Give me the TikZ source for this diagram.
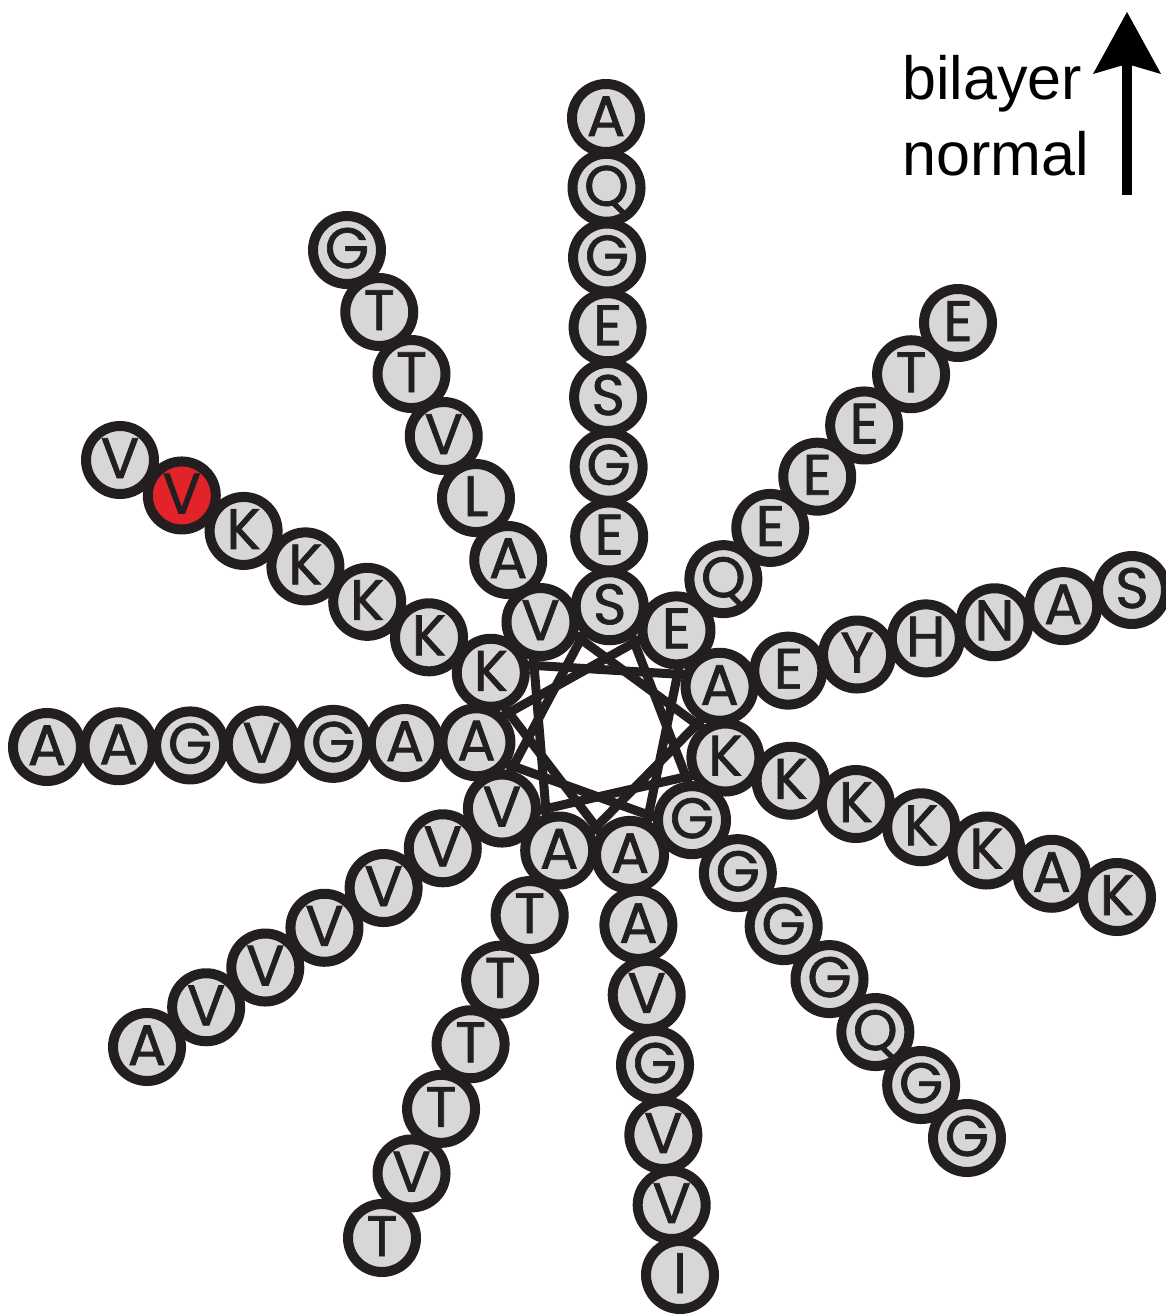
\documentclass[tikz,border=0pt]{standalone}
\usepackage{fontspec}
\setmainfont{Liberation Sans}
\newfontfamily\resfont[FakeBold=1.2]{Poppins}
\usetikzlibrary{calc}
\definecolor{ink}{HTML}{231F20}
\definecolor{resgrey}{HTML}{D7D7D7}
\definecolor{resred}{HTML}{E2232A}
\begin{document}
\begin{tikzpicture}[x=1pt,y=-1pt,
  res/.style={circle,draw=ink,line width=10pt,minimum size=68pt,inner sep=0pt,
     font=\resfont\fontsize{57}{57}\selectfont,text=ink,text height=36pt,text depth=0pt},
  helix/.style={draw=ink,line width=9pt},
  caption/.style={font=\fontsize{61}{61}\selectfont,text=black,inner sep=0pt,anchor=base west}]
\useasboundingbox (0,0) rectangle (1165,1316);
\coordinate (C) at (602,732);
% inner ring (wheel) positions and helix line end points
\foreach \k in {0,...,10}{
  \pgfmathsetmacro\th{86.5-32.7273*\k}
  \coordinate (I\k) at ({602+126*cos(\th)},{732-126*sin(\th)});
  \coordinate (H\k) at ({602+150*cos(\th)},{732-150*sin(\th)});
}
% outer ends of the spokes
\coordinate (O0) at (606,118);
\coordinate (O1) at (958,323);
\coordinate (O2) at (1132,590);
\coordinate (O3) at (1117,897);
\coordinate (O4) at (967,1138);
\coordinate (O5) at (680,1275);
\coordinate (O6) at (382,1238);
\coordinate (O7) at (147,1047);
\coordinate (O8) at (47,747);
\coordinate (O9) at (120,460);
\coordinate (O10) at (347,250);
% helix connections
\foreach \k in {0,...,10}{
  \pgfmathtruncatemacro\m{mod(\k+4,11)}
  \draw[helix] (H\k) -- (H\m);
}
% residues
\foreach \s/\n/\seq in {
  0/7/{S,E,G,S,E,G,Q,A},
  1/6/{E,Q,E,E,E,T,E},
  2/6/{A,E,Y,H,N,A,S},
  3/6/{K,K,K,K,K,A,K},
  4/6/{G,G,G,G,Q,G,G},
  5/6/{A,A,V,G,V,V,I},
  6/6/{A,T,T,T,T,V,T},
  7/6/{V,V,V,V,V,V,A},
  8/6/{A,A,G,V,G,A,A},
  9/6/{K,K,K,K,K,V,V},
  10/6/{V,A,L,V,T,T,G}}{
  \foreach \ch [count=\i from 0] in \seq {
    \pgfmathsetmacro\t{\i/\n}
    \def\fillc{resgrey}
    \ifnum\s=9 \ifnum\i=5 \def\fillc{resred}\fi\fi
    \node[res,fill=\fillc] (s\s n\i) at ($(I\s)!\t!(O\s)$) {\ch};
  }
}
% bilayer normal
\node[caption] (t1) at (902,100) {bilayer};
\node[caption] (t2) at (902,176) {normal};
\coordinate (abase) at (1127,195);
\coordinate (aneck) at (1127,64);
\coordinate (atip) at (1127,12);
\draw[line width=10pt,black] (abase) -- (aneck);
\fill[black] (atip) -- (1161,74) -- (aneck) -- (1093,74) -- cycle;
\end{tikzpicture}
\end{document}
